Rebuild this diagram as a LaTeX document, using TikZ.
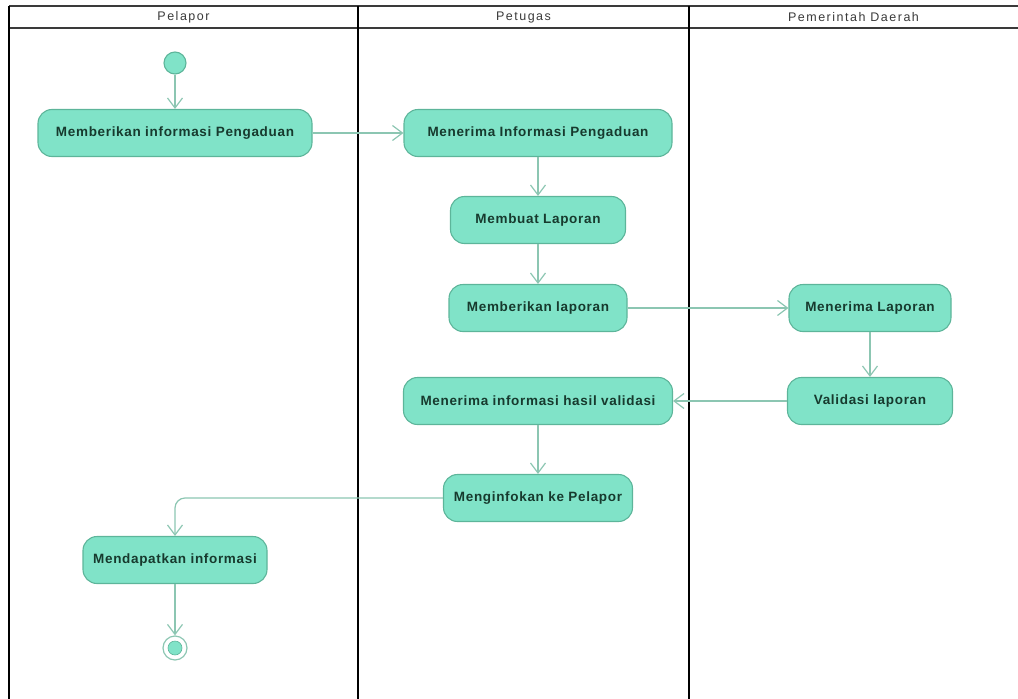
\documentclass[tikz,border=0pt]{standalone}
\usepackage{fontspec}
\setmainfont{Liberation Sans}
\usetikzlibrary{arrows.meta}
\definecolor{actfill}{HTML}{80E3C8}
\definecolor{actdraw}{HTML}{5DB59A}
\definecolor{flowc}{HTML}{8CC6B2}
\definecolor{txt}{HTML}{173A2E}
\definecolor{headc}{HTML}{3A3A3A}
\begin{document}
\begin{tikzpicture}[x=1pt,y=-1pt,
 act/.style={draw=actdraw, fill=actfill, line width=1.1pt, rounded corners=14pt,
   minimum height=47pt, font=\fontsize{13.5}{16}\selectfont\bfseries\addfontfeature{LetterSpace=5}, text=txt, inner sep=0pt},
 flow/.style={draw=flowc, line width=1.2pt, -{Straight Barb[length=10pt,width=15pt,line width=1.2pt]}},
 lane/.style={line width=2pt, draw=black},
 frameln/.style={line width=2pt, draw=headc},
 head/.style={font=\fontsize{12.5}{14}\selectfont\addfontfeature{LetterSpace=12}, text=headc}]
\useasboundingbox (0,0) rectangle (1018,699);
% swimlane frame
\draw[frameln] (9,6) -- (1018,6);
\draw[frameln] (9,28) -- (1018,28);
\draw[lane] (9,6) -- (9,699);
\draw[lane] (358,6) -- (358,699);
\draw[lane] (689,6) -- (689,699);
\node[head] (h1) at (183.5,17) {Pelapor};
\node[head] (h2) at (523.5,17) {Petugas};
\node[head] (h3) at (853.5,17) {Pemerintah Daerah};
% nodes
\node[circle, draw=actdraw, fill=actfill, line width=1.1pt, minimum size=22pt, inner sep=0pt] (start) at (175,63) {};
\node[act, minimum width=274pt] (n1) at (175,133) {Memberikan informasi Pengaduan};
\node[act, minimum width=268pt] (n2) at (538,133) {Menerima Informasi Pengaduan};
\node[act, minimum width=175pt] (n3) at (538,220) {Membuat Laporan};
\node[act, minimum width=178pt] (n4) at (538,308) {Memberikan laporan};
\node[act, minimum width=162pt] (n5) at (870,308) {Menerima Laporan};
\node[act, minimum width=165pt] (n6) at (870,401) {Validasi laporan};
\node[act, minimum width=269pt] (n7) at (538,401) {Menerima informasi hasil validasi};
\node[act, minimum width=189pt] (n8) at (538,498) {Menginfokan ke Pelapor};
\node[act, minimum width=184pt] (n9) at (175,560) {Mendapatkan informasi};
\node[circle, draw=flowc, line width=1.2pt, minimum size=24pt, inner sep=0pt] (endn) at (175,648) {};
\node[circle, fill=actfill, draw=actdraw, line width=0.6pt, minimum size=14pt, inner sep=0pt] (endin) at (175,648) {};
% flows
\draw[flow] (start) -- (n1);
\draw[flow] (n1) -- (n2);
\draw[flow] (n2) -- (n3);
\draw[flow] (n3) -- (n4);
\draw[flow] (n4) -- (n5);
\draw[flow] (n5) -- (n6);
\draw[flow] (n6) -- (n7);
\draw[flow] (n7) -- (n8);
\draw[flow, rounded corners=10pt] (n8.west) -| (n9.north);
\draw[flow] (n9) -- (endn);
\end{tikzpicture}
\end{document}
